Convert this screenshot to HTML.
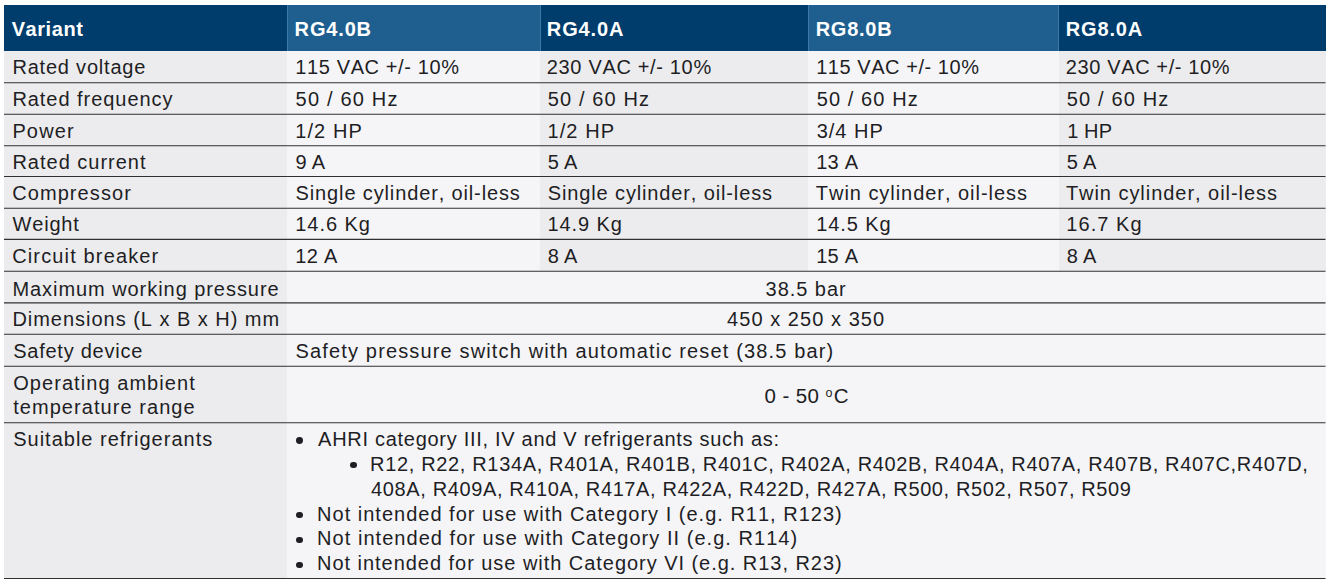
<!DOCTYPE html>
<html><head><meta charset="utf-8"><title>Specs</title>
<style>
html,body{margin:0;padding:0;background:#fff;}
body{width:1327px;height:583px;position:relative;overflow:hidden;font-family:"Liberation Sans",sans-serif;color:#1e1e24;}
.b{position:absolute;}
.t{position:absolute;white-space:nowrap;font-kerning:none;font-size:20px;line-height:24px;transform-origin:0 50%;}
.h{font-weight:bold;color:#fff;}
.c{text-align:center;transform-origin:50% 50%;}
.ln{position:absolute;left:4px;width:1321.5px;height:1px;background:#444;}
</style></head><body>
<div class="b" style="left:4px;top:5px;width:283px;height:45.7px;background:#003c6c"></div>
<div class="b" style="left:287px;top:5px;width:253px;height:45.7px;background:#1f5f8f"></div>
<div class="b" style="left:540px;top:5px;width:268px;height:45.7px;background:#003c6c"></div>
<div class="b" style="left:808px;top:5px;width:250.5px;height:45.7px;background:#1f5f8f"></div>
<div class="b" style="left:1058.5px;top:5px;width:267.0px;height:45.7px;background:#003c6c"></div>
<div class="b" style="left:286.5px;top:5px;width:1.0px;height:45.7px;background:#3f78a8"></div>
<div class="b" style="left:539.5px;top:5px;width:1.0px;height:45.7px;background:#3f78a8"></div>
<div class="b" style="left:807.5px;top:5px;width:1.0px;height:45.7px;background:#3f78a8"></div>
<div class="b" style="left:1058.0px;top:5px;width:1.0px;height:45.7px;background:#3f78a8"></div>
<div class="b" style="left:4px;top:50.7px;width:283px;height:220.60000000000002px;background:#ececee"></div>
<div class="b" style="left:287px;top:50.7px;width:253px;height:220.60000000000002px;background:#f5f5f8"></div>
<div class="b" style="left:540px;top:50.7px;width:268px;height:220.60000000000002px;background:#ececee"></div>
<div class="b" style="left:808px;top:50.7px;width:250.5px;height:220.60000000000002px;background:#f5f5f8"></div>
<div class="b" style="left:1058.5px;top:50.7px;width:267.0px;height:220.60000000000002px;background:#ececee"></div>
<div class="b" style="left:4px;top:271.3px;width:283px;height:307.2px;background:#ececee"></div>
<div class="b" style="left:287px;top:271.3px;width:1038.5px;height:307.2px;background:#f5f5f8"></div>
<svg class="b" style="left:0;top:0" width="1327" height="583" viewBox="0 0 1327 583">
<line x1="4" x2="1325.5" y1="82.8" y2="82.8" stroke="#303032" stroke-width="1.1"/>
<line x1="4" x2="1325.5" y1="114.2" y2="114.2" stroke="#303032" stroke-width="1.1"/>
<line x1="4" x2="1325.5" y1="145.7" y2="145.7" stroke="#303032" stroke-width="1.1"/>
<line x1="4" x2="1325.5" y1="176.5" y2="176.5" stroke="#303032" stroke-width="1.1"/>
<line x1="4" x2="1325.5" y1="208.3" y2="208.3" stroke="#303032" stroke-width="1.1"/>
<line x1="4" x2="1325.5" y1="239.4" y2="239.4" stroke="#303032" stroke-width="1.1"/>
<line x1="4" x2="1325.5" y1="271.3" y2="271.3" stroke="#303032" stroke-width="1.1"/>
<line x1="4" x2="1325.5" y1="302.9" y2="302.9" stroke="#303032" stroke-width="1.1"/>
<line x1="4" x2="1325.5" y1="334.3" y2="334.3" stroke="#303032" stroke-width="1.1"/>
<line x1="4" x2="1325.5" y1="366.2" y2="366.2" stroke="#303032" stroke-width="1.1"/>
<line x1="4" x2="1325.5" y1="422.7" y2="422.7" stroke="#303032" stroke-width="1.1"/>
<line x1="4" x2="1325.5" y1="578.5" y2="578.5" stroke="#303032" stroke-width="1.1"/>
</svg>
<div class="t h" style="left:11.70px;top:16.67px;letter-spacing:0.560px;font-size:20px">Variant</div>
<div class="t h" style="left:294.60px;top:16.67px;letter-spacing:0.839px;font-size:20px">RG4.0B</div>
<div class="t h" style="left:546.80px;top:16.67px;letter-spacing:0.899px;font-size:20px">RG4.0A</div>
<div class="t h" style="left:815.70px;top:16.67px;letter-spacing:0.739px;font-size:20px">RG8.0B</div>
<div class="t h" style="left:1065.80px;top:16.67px;letter-spacing:0.839px;font-size:20px">RG8.0A</div>
<div class="t" style="left:12.40px;top:54.57px;letter-spacing:0.800px;font-size:20px">Rated voltage</div>
<div class="t" style="left:295.30px;top:54.57px;letter-spacing:0.614px;font-size:20px">115 VAC +/- 10%</div>
<div class="t" style="left:546.80px;top:54.57px;letter-spacing:0.664px;font-size:20px">230 VAC +/- 10%</div>
<div class="t" style="left:816.20px;top:54.57px;letter-spacing:0.550px;font-size:20px">115 VAC +/- 10%</div>
<div class="t" style="left:1065.80px;top:54.57px;letter-spacing:0.621px;font-size:20px">230 VAC +/- 10%</div>
<div class="t" style="left:12.40px;top:87.27px;letter-spacing:0.953px;font-size:20px">Rated frequency</div>
<div class="t" style="left:295.60px;top:87.27px;letter-spacing:1.182px;font-size:20px">50 / 60 Hz</div>
<div class="t" style="left:547.80px;top:87.27px;letter-spacing:1.126px;font-size:20px">50 / 60 Hz</div>
<div class="t" style="left:816.70px;top:87.27px;letter-spacing:1.093px;font-size:20px">50 / 60 Hz</div>
<div class="t" style="left:1066.80px;top:87.27px;letter-spacing:1.149px;font-size:20px">50 / 60 Hz</div>
<div class="t" style="left:12.40px;top:118.77px;letter-spacing:1.143px;font-size:20px">Power</div>
<div class="t" style="left:295.30px;top:118.77px;letter-spacing:1.059px;font-size:20px">1/2 HP</div>
<div class="t" style="left:547.40px;top:118.77px;letter-spacing:1.119px;font-size:20px">1/2 HP</div>
<div class="t" style="left:816.70px;top:118.77px;letter-spacing:0.979px;font-size:20px">3/4 HP</div>
<div class="t" style="left:1067.20px;top:118.77px;letter-spacing:0.126px;font-size:20px">1 HP</div>
<div class="t" style="left:12.40px;top:149.77px;letter-spacing:0.999px;font-size:20px">Rated current</div>
<div class="t" style="left:295.60px;top:149.77px;letter-spacing:-0.240px;font-size:20px">9 A</div>
<div class="t" style="left:547.80px;top:149.77px;letter-spacing:-0.190px;font-size:20px">5 A</div>
<div class="t" style="left:816.20px;top:149.77px;letter-spacing:0.266px;font-size:20px">13 A</div>
<div class="t" style="left:1066.80px;top:149.77px;letter-spacing:-0.290px;font-size:20px">5 A</div>
<div class="t" style="left:12.20px;top:181.27px;letter-spacing:1.083px;font-size:20px">Compressor</div>
<div class="t" style="left:295.60px;top:181.27px;letter-spacing:0.866px;font-size:20px">Single cylinder, oil-less</div>
<div class="t" style="left:547.80px;top:181.27px;letter-spacing:0.866px;font-size:20px">Single cylinder, oil-less</div>
<div class="t" style="left:815.80px;top:181.27px;letter-spacing:0.961px;font-size:20px">Twin cylinder, oil-less</div>
<div class="t" style="left:1065.90px;top:181.27px;letter-spacing:0.957px;font-size:20px">Twin cylinder, oil-less</div>
<div class="t" style="left:12.50px;top:212.47px;letter-spacing:0.822px;font-size:20px">Weight</div>
<div class="t" style="left:295.30px;top:212.47px;letter-spacing:0.946px;font-size:20px">14.6 Kg</div>
<div class="t" style="left:547.40px;top:212.47px;letter-spacing:0.930px;font-size:20px">14.9 Kg</div>
<div class="t" style="left:816.20px;top:212.47px;letter-spacing:0.896px;font-size:20px">14.5 Kg</div>
<div class="t" style="left:1066.30px;top:212.47px;letter-spacing:1.046px;font-size:20px">16.7 Kg</div>
<div class="t" style="left:12.20px;top:243.77px;letter-spacing:1.144px;font-size:20px">Circuit breaker</div>
<div class="t" style="left:295.30px;top:243.77px;letter-spacing:0.332px;font-size:20px">12 A</div>
<div class="t" style="left:547.80px;top:243.77px;letter-spacing:-0.190px;font-size:20px">8 A</div>
<div class="t" style="left:816.20px;top:243.77px;letter-spacing:0.266px;font-size:20px">15 A</div>
<div class="t" style="left:1066.80px;top:243.77px;letter-spacing:-0.290px;font-size:20px">8 A</div>
<div class="t" style="left:12.40px;top:276.77px;letter-spacing:0.944px;font-size:20px">Maximum working pressure</div>
<div class="t" style="left:765.60px;top:276.77px;letter-spacing:0.953px;font-size:20px">38.5 bar</div>
<div class="t" style="left:12.40px;top:307.37px;letter-spacing:0.975px;font-size:20px">Dimensions (L x B x H) mm</div>
<div class="t" style="left:727.10px;top:307.37px;letter-spacing:1.049px;font-size:20px">450 x 250 x 350</div>
<div class="t" style="left:13.20px;top:338.97px;letter-spacing:0.755px;font-size:20px">Safety device</div>
<div class="t" style="left:295.60px;top:338.97px;letter-spacing:1.145px;font-size:20px">Safety pressure switch with automatic reset (38.5 bar)</div>
<div class="t" style="left:13.20px;top:371.07px;letter-spacing:1.063px;font-size:20px">Operating ambient</div>
<div class="t" style="left:13.20px;top:395.07px;letter-spacing:1.055px;font-size:20px">temperature range</div>
<div class="t" style="left:13.20px;top:426.57px;letter-spacing:1.001px;font-size:20px">Suitable refrigerants</div>
<div class="t" style="left:318.10px;top:426.77px;letter-spacing:0.710px;font-size:20px">AHRI category III, IV and V refrigerants such as:</div>
<div class="t" style="left:370.10px;top:451.77px;letter-spacing:0.656px;font-size:20px">R12, R22, R134A, R401A, R401B, R401C, R402A, R402B, R404A, R407A, R407B, R407C,R407D,</div>
<div class="t" style="left:371.10px;top:476.77px;letter-spacing:0.619px;font-size:20px">408A, R409A, R410A, R417A, R422A, R422D, R427A, R500, R502, R507, R509</div>
<div class="t" style="left:317.10px;top:501.57px;letter-spacing:1.002px;font-size:20px">Not intended for use with Category I (e.g. R11, R123)</div>
<div class="t" style="left:317.10px;top:526.47px;letter-spacing:1.038px;font-size:20px">Not intended for use with Category II (e.g. R114)</div>
<div class="t" style="left:317.10px;top:551.47px;letter-spacing:0.959px;font-size:20px">Not intended for use with Category VI (e.g. R13, R23)</div>
<div class="t" style="left:764.6px;top:383.6px;letter-spacing:0.38px;font-size:20.5px">0 - 50 <span style="font-size:12.5px;position:relative;top:-5.6px;letter-spacing:1.4px">o</span>C</div>
<div class="b" style="left:296.1px;top:437.0px;width:6.8px;height:6.8px;border-radius:50%;background:#1e1e24"></div>
<div class="b" style="left:349.8px;top:461.70000000000005px;width:6.8px;height:6.8px;border-radius:50%;background:#1e1e24"></div>
<div class="b" style="left:296.20000000000005px;top:511.70000000000005px;width:6.8px;height:6.8px;border-radius:50%;background:#1e1e24"></div>
<div class="b" style="left:296.20000000000005px;top:536.6px;width:6.8px;height:6.8px;border-radius:50%;background:#1e1e24"></div>
<div class="b" style="left:296.20000000000005px;top:561.5px;width:6.8px;height:6.8px;border-radius:50%;background:#1e1e24"></div>
</body></html>
